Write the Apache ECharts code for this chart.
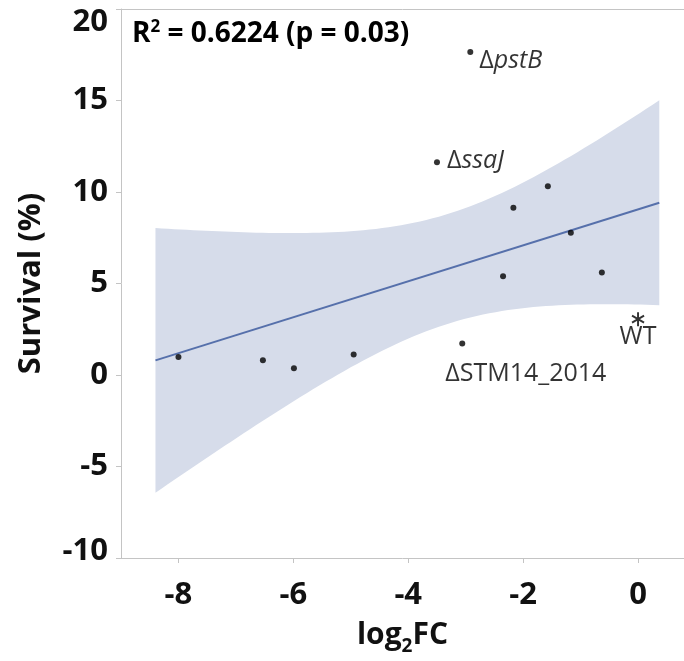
<!DOCTYPE html>
<html>
<head>
<meta charset="utf-8">
<script src="https://cdn.jsdelivr.net/npm/echarts@6/dist/echarts.min.js"></script>
<style>
  html, body { margin: 0; padding: 0; background: #fff; }
  #chart { width: 684px; height: 661px; }
</style>
</head>
<body>
<div id="chart"></div>
<script>
// Mutant fitness (log2 fold change) against survival
const log2FC   = [-8.0, -6.53, -5.99, -4.95, -3.50, -2.92, -3.06, -2.35, -2.17, -1.57, -1.17, -0.63, 0];
const survival = [0.99, 0.81, 0.37, 1.12, 11.63, 17.65, 1.72, 5.40, 9.14, 10.32, 7.77, 5.60, 3.05];
const strains  = ['', '', '', '', 'ssaJ', 'pstB', 'STM14_2014', '', '', '', '', '', 'WT'];

const xTicks = [-8, -6, -4, -2, 0];
const yTicks = [-10, -5, 0, 5, 10, 15, 20];
const fitRange = [-8.4, 0.37];
const statsText = { r2: '0.6224', p: '0.03' };

// Ordinary least squares fit with a 95% confidence band for the mean
function linearFit(xs, ys) {
  const n = xs.length;
  const mx = xs.reduce((a, b) => a + b, 0) / n;
  const my = ys.reduce((a, b) => a + b, 0) / n;
  let sxx = 0, sxy = 0, syy = 0;
  for (let i = 0; i < n; i++) {
    sxx += (xs[i] - mx) ** 2;
    sxy += (xs[i] - mx) * (ys[i] - my);
    syy += (ys[i] - my) ** 2;
  }
  const slope = sxy / sxx;
  const intercept = my - slope * mx;
  const s = Math.sqrt((syy - slope * sxy) / (n - 2));
  const t = 2.201; // t(0.975, df = 11)
  return {
    at: x => intercept + slope * x,
    half: x => t * s * Math.sqrt(1 / n + (x - mx) ** 2 / sxx)
  };
}
const fit = linearFit(log2FC, survival);
const steps = 80;
const bandUpper = [], bandLower = [];
for (let i = 0; i <= steps; i++) {
  const x = fitRange[0] + (fitRange[1] - fitRange[0]) * i / steps;
  bandUpper.push([x, fit.at(x) + fit.half(x)]);
  bandLower.push([x, fit.at(x) - fit.half(x)]);
}
const fitLine = fitRange.map(x => [x, fit.at(x)]);

// six-armed star marker for the wild type
const asterisk = 'path://M43 0L57 0L57 100L43 100Z' +
  'M3.2 31.1L10.2 19L96.8 69L89.8 81.1Z' +
  'M10.2 81.1L3.2 69L89.8 19L96.8 31.1Z';

const labelFont = 'Open Sans';
const richLabel = {
  d: { fontFamily: labelFont, fontSize: 25, color: '#000' },
  i: { fontFamily: labelFont, fontSize: 25, fontStyle: 'italic', color: '#000' }
};
const baseLabel = { show: true, color: '#000', textBorderWidth: 0, rich: richLabel };
const labelSpec = {
  ssaJ: Object.assign({ position: 'right', distance: 7, offset: [0, -1], formatter: '{d|Δ}{i|ssaJ}' }, baseLabel),
  pstB: Object.assign({ position: 'right', distance: 6, offset: [0, 9], formatter: '{d|Δ}{i|pstB}' }, baseLabel),
  STM14_2014: Object.assign({ position: 'right', distance: 5, offset: [-25, 30], formatter: '{d|ΔSTM14_2014}' }, baseLabel),
  WT: Object.assign({ position: 'inside', offset: [0, 18], formatter: '{d|WT}' }, baseLabel)
};

const points = log2FC.map((x, i) => {
  const name = strains[i];
  const item = { value: [x, survival[i]] };
  if (name === 'WT') {
    item.symbol = asterisk;
    item.symbolSize = [13, 14];
  }
  if (name) item.label = labelSpec[name];
  return item;
});

const axisGray = '#c4c4c4';
const tickFont = { fontFamily: 'Open Sans', fontWeight: 'bold', fontSize: 31, color: '#111' };

const chart = echarts.init(document.getElementById('chart'), null, { renderer: 'canvas' });
chart.setOption({
  animation: false,
  backgroundColor: '#fff',
  grid: { left: 121, right: 0, top: 9, bottom: 103, outerBoundsMode: 'none', containLabel: false },
  graphic: [{
    type: 'text',
    left: 132,
    top: 19,
    style: {
      text: '{b|R}{sup|2}{b| = ' + statsText.r2 + ' (p = ' + statsText.p + ')}',
      rich: {
        b: { fontFamily: 'Open Sans', fontWeight: 'bold', fontSize: 28, color: '#111' },
        sup: { fontFamily: 'Open Sans', fontWeight: 'bold', fontSize: 17, color: '#111', padding: [0, 0, 13, 0] }
      }
    }
  }],
  xAxis: [{
    type: 'value',
    min: -9,
    max: 0.8,
    name: 'log{sub|2}FC',
    nameLocation: 'middle',
    nameGap: 57,
    nameTextStyle: {
      fontFamily: 'Open Sans', fontWeight: 'bold', fontSize: 30, color: '#111',
      rich: {
        sub: { fontFamily: 'Open Sans', fontWeight: 'bold', fontSize: 19, color: '#111', padding: [22, 0, 0, 0] }
      }
    },
    axisLine: { show: true, onZero: false, lineStyle: { color: axisGray, width: 1 } },
    axisTick: { show: true, length: 5, customValues: xTicks, lineStyle: { color: axisGray } },
    axisLabel: Object.assign({ margin: 22, customValues: xTicks }, tickFont),
    splitLine: { show: false }
  }, {
    type: 'value',
    position: 'top',
    min: -9,
    max: 0.8,
    axisLine: { show: true, onZero: false, lineStyle: { color: axisGray, width: 1 } },
    axisTick: { show: false },
    axisLabel: { show: false },
    splitLine: { show: false }
  }],
  yAxis: {
    type: 'value',
    min: yTicks[0],
    max: yTicks[yTicks.length - 1],
    interval: 5,
    name: 'Survival (%)',
    nameLocation: 'middle',
    nameGap: 74,
    nameTextStyle: { fontFamily: 'Open Sans', fontWeight: 'bold', fontSize: 31, color: '#111' },
    axisLine: { show: true, onZero: false, lineStyle: { color: axisGray, width: 1 } },
    axisTick: { show: true, length: 5, lineStyle: { color: axisGray } },
    axisLabel: Object.assign({
      margin: 13,
      // end labels are nudged inside the plot's vertical extent
      formatter: function (v) {
        if (v === yTicks[yTicks.length - 1]) return '{top|' + v + '}';
        if (v === yTicks[0]) return '{bot|' + v + '}';
        return String(v);
      },
      rich: {
        top: Object.assign({ padding: [26, 0, 0, 0] }, tickFont),
        bot: Object.assign({ padding: [0, 0, 14, 0] }, tickFont)
      }
    }, tickFont),
    splitLine: { show: false }
  },
  series: [{
    type: 'custom',
    silent: true,
    z: 1,
    data: [0],
    renderItem: function (params, api) {
      const pts = bandUpper.map(p => api.coord(p))
        .concat(bandLower.slice().reverse().map(p => api.coord(p)));
      return { type: 'polygon', shape: { points: pts }, style: { fill: '#d6dcea' } };
    }
  }, {
    type: 'line',
    z: 2,
    data: fitLine,
    showSymbol: false,
    lineStyle: { color: '#5670ab', width: 2 }
  }, {
    type: 'scatter',
    z: 3,
    data: points,
    symbol: 'circle',
    symbolSize: 6,
    itemStyle: { color: '#000' }
  }]
});
</script>
</body>
</html>
